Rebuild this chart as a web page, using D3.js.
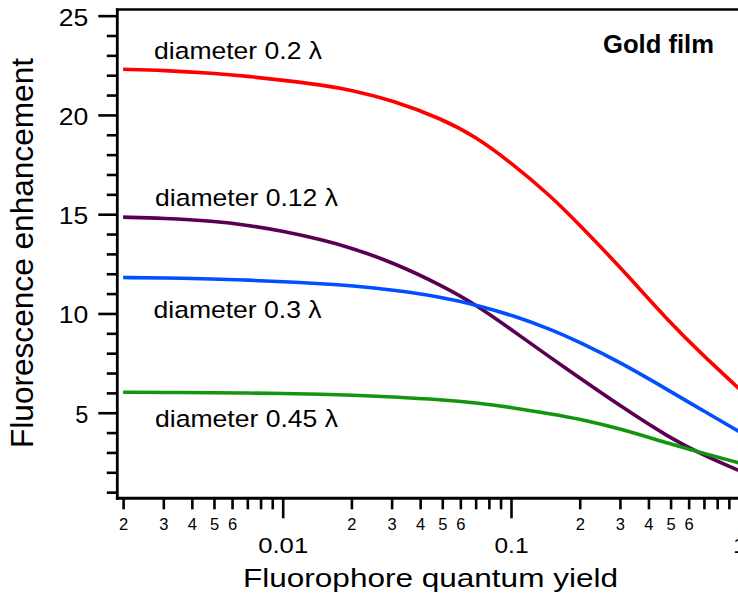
<!DOCTYPE html>
<html>
<head>
<meta charset="utf-8">
<script src="https://cdn.jsdelivr.net/npm/d3@7"></script>
<style>
  html, body { margin: 0; padding: 0; background: #fff; }
  svg { display: block; }
  text { font-family: "Liberation Sans", Arial, Helvetica, sans-serif; fill: #000; }
</style>
</head>
<body>
<svg id="chart" width="738" height="597"></svg>
<script>
// ---- data ----
const quantumYield = [0.002, 0.003, 0.005, 0.007, 0.01, 0.015, 0.02, 0.03, 0.05, 0.07, 0.1, 0.15, 0.2, 0.3, 0.5, 0.7, 1.0];
const diam020 = [22.3, 22.25, 22.1, 21.95, 21.75, 21.5, 21.25, 20.75, 19.8, 18.9, 17.6, 15.9, 14.45, 12.35, 9.5, 7.85, 6.2];
const diam012 = [14.85, 14.8, 14.65, 14.45, 14.15, 13.7, 13.3, 12.6, 11.4, 10.45, 9.2, 7.75, 6.75, 5.35, 3.7, 2.85, 2.08];
const diam030 = [11.81, 11.79, 11.74, 11.68, 11.6, 11.5, 11.4, 11.2, 10.82, 10.44, 9.93, 9.2, 8.55, 7.55, 6.07, 5.08, 4.05];
const diam045 = [6.03, 6.02, 6.01, 5.99, 5.97, 5.93, 5.89, 5.8, 5.65, 5.5, 5.27, 4.94, 4.69, 4.2, 3.42, 2.95, 2.47];
const seriesNames = ["diameter 0.2 \u03bb", "diameter 0.12 \u03bb", "diameter 0.3 \u03bb", "diameter 0.45 \u03bb"];
const seriesColors = ["#ff0000", "#5a0052", "#0050ff", "#12960f"];
const yMajorTicks = [5, 10, 15, 20, 25];
const yMinorTicks = [1,2,3,4,6,7,8,9,11,12,13,14,16,17,18,19,21,22,23,24];
const xMajorTicks = [0.01, 0.1, 1];
const xMinorTicks = [0.002,0.003,0.004,0.005,0.006,0.007,0.008,0.009,
                     0.02,0.03,0.04,0.05,0.06,0.07,0.08,0.09,
                     0.2,0.3,0.4,0.5,0.6,0.7,0.8,0.9];
const xMinorLabeled = [2,3,4,5,6];
const xTitle = "Fluorophore quantum yield";
const yTitle = "Fluorescence enhancement";
const panelTitle = "Gold film";

// ---- layout ----
const svg = d3.select("#chart");
const pL = 117.3, pR = 739.3, pT = 9.5, pB = 498.3;

const x = d3.scaleLog().domain([0.001886, 1]).range([pL, pR]);
const y = d3.scaleLinear().domain([0.69, 25.31]).range([pB, pT]);

// curves
const series = [diam020, diam012, diam030, diam045];
const line = d3.line()
  .x(d => x(d[0]))
  .y(d => y(d[1]))
  .curve(d3.curveBasis);

svg.append("g").selectAll("path")
  .data(series)
  .join("path")
  .attr("d", vals => line(quantumYield.map((q, i) => [q, vals[i]])))
  .attr("fill", "none")
  .attr("stroke", (d, i) => seriesColors[i])
  .attr("stroke-width", 3.6)
  .attr("stroke-linejoin", "round");

// y axis (major + minor)
const yMaj = svg.append("g").attr("transform", `translate(${pL},0)`)
  .call(d3.axisLeft(y).tickValues(yMajorTicks).tickSize(19).tickPadding(10).tickFormat(d3.format("d")));
const yMin = svg.append("g").attr("transform", `translate(${pL},0)`)
  .call(d3.axisLeft(y).tickValues(yMinorTicks).tickSize(10.5).tickFormat(""));
[yMaj, yMin].forEach(g => {
  g.select(".domain").remove();
  g.selectAll(".tick line").attr("stroke", "#000").attr("stroke-width", 2.6);
});
yMaj.selectAll(".tick text")
  .attr("font-size", 23.5)
  .attr("dy", "0.4em")
  .attr("font-family", null)
  .each(function(d) { if (String(d).length > 1) d3.select(this).attr("textLength", 29.5).attr("lengthAdjust", "spacingAndGlyphs"); });

// x axis (major + minor)
const xMaj = svg.append("g").attr("transform", `translate(0,${pB})`)
  .call(d3.axisBottom(x).tickValues(xMajorTicks).tickSize(20).tickFormat(d => d === 1 ? "1" : String(d)));
const xMin = svg.append("g").attr("transform", `translate(0,${pB})`)
  .call(d3.axisBottom(x).tickValues(xMinorTicks).tickSize(11)
    .tickFormat(d => {
      const m = Math.round(d / Math.pow(10, Math.floor(Math.log10(d) + 1e-9)));
      return xMinorLabeled.includes(m) ? String(m) : "";
    }));
[xMaj, xMin].forEach(g => {
  g.select(".domain").remove();
  g.selectAll(".tick line").attr("stroke", "#000").attr("stroke-width", 2.6);
});
xMin.selectAll(".tick text").attr("font-size", 16.5).attr("y", 31.5).attr("dy", 0).attr("font-family", null);
xMaj.selectAll(".tick text").attr("font-size", 22).attr("y", 54.7).attr("dy", 0).attr("font-family", null)
  .each(function(d) {
    const w = d === 0.01 ? 50 : d === 0.1 ? 34 : 13.5;
    d3.select(this).attr("textLength", w).attr("lengthAdjust", "spacingAndGlyphs");
  });

// frame lines (left, bottom, top, right)
svg.append("line").attr("x1", pL).attr("x2", pL).attr("y1", pT - 1).attr("y2", pB + 1.5)
  .attr("stroke", "#000").attr("stroke-width", 2.8);
svg.append("line").attr("x1", pL - 1.4).attr("x2", pR).attr("y1", pB).attr("y2", pB)
  .attr("stroke", "#000").attr("stroke-width", 3);
svg.append("line").attr("x1", pL - 1.4).attr("x2", pR).attr("y1", pT).attr("y2", pT)
  .attr("stroke", "#000").attr("stroke-width", 2.4);
svg.append("line").attr("x1", pR).attr("x2", pR).attr("y1", pT).attr("y2", pB)
  .attr("stroke", "#000").attr("stroke-width", 2.4);

// series labels
const labelPos = [[154, 59.3, 168], [155, 206, 183], [153.5, 317.7, 168], [155, 426.7, 183]];
svg.append("g").selectAll("text")
  .data(seriesNames)
  .join("text")
  .attr("x", (d, i) => labelPos[i][0])
  .attr("y", (d, i) => labelPos[i][1])
  .attr("textLength", (d, i) => labelPos[i][2])
  .attr("lengthAdjust", "spacingAndGlyphs")
  .attr("font-size", 24.5)
  .text(d => d);

// panel title
svg.append("text").attr("x", 603).attr("y", 53.3)
  .attr("font-size", 25).attr("font-weight", "bold")
  .attr("textLength", 111).attr("lengthAdjust", "spacingAndGlyphs")
  .text(panelTitle);

// axis titles
svg.append("text").attr("x", 430.5).attr("y", 587)
  .attr("text-anchor", "middle").attr("font-size", 26)
  .attr("textLength", 375).attr("lengthAdjust", "spacingAndGlyphs")
  .text(xTitle);
svg.append("text").attr("transform", "translate(33,253) rotate(-90)")
  .attr("text-anchor", "middle").attr("font-size", 31)
  .attr("textLength", 390).attr("lengthAdjust", "spacingAndGlyphs")
  .text(yTitle);
</script>
</body>
</html>
